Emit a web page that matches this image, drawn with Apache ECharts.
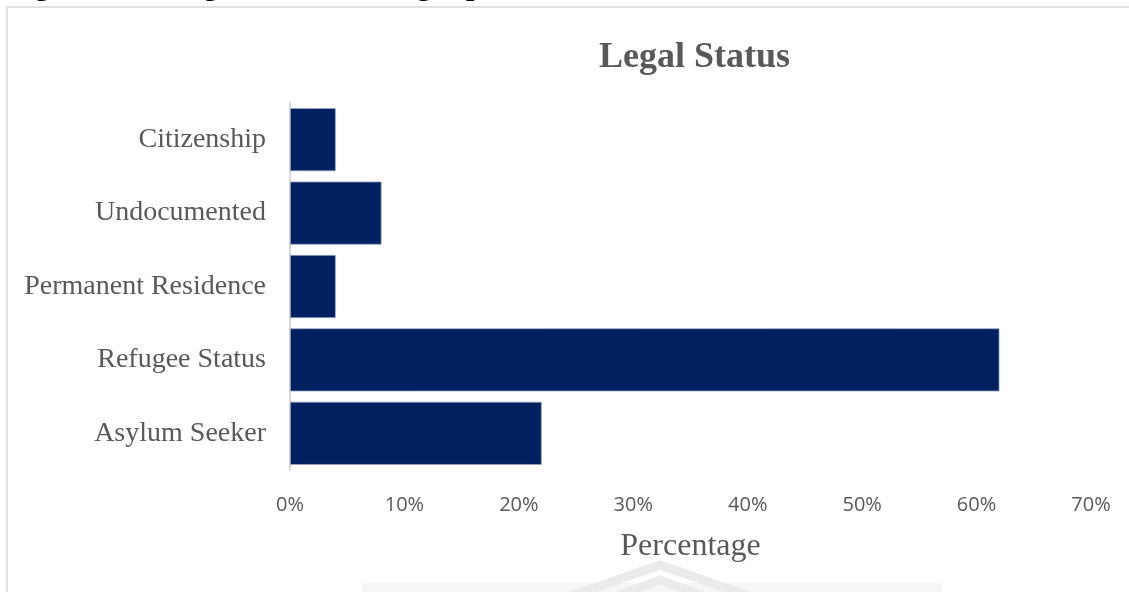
<!DOCTYPE html>
<html>
<head>
<meta charset="utf-8">
<title>Legal Status</title>
<script src="https://cdn.jsdelivr.net/npm/echarts@6/dist/echarts.min.js"></script>
<style>
  html, body { margin: 0; padding: 0; background: #ffffff; }
  #chart { width: 1129px; height: 592px; }
</style>
</head>
<body>
<div id="chart"></div>
<script>
// Legal status of refugee patients (share of patients, %)
const categories = ['Asylum Seeker', 'Refugee Status', 'Permanent Residence', 'Undocumented', 'Citizenship'];
const percentages = [22, 62, 4, 8, 4];
const xTicks = { min: 0, max: 70, interval: 10 };
const chartTitle = 'Legal Status';
const axisTitle = 'Percentage';
const caption = 'Figure 3.10: Legal status of refugee patients';

const serif = '"Liberation Serif", "Times New Roman", serif';
const sans = '"Open Sans", "Noto Sans", sans-serif';
const grey = '#595959';

const chart = echarts.init(document.getElementById('chart'), null, { renderer: 'canvas' });

chart.setOption({
  animation: false,
  backgroundColor: '#ffffff',
  title: {
    text: chartTitle,
    left: 594,
    top: 35,
    textStyle: { fontFamily: serif, fontWeight: 'bold', fontSize: 36, color: grey }
  },
  grid: { left: 290, right: 38, top: 103, bottom: 122, containLabel: false },
  xAxis: {
    type: 'value',
    min: xTicks.min,
    max: xTicks.max,
    interval: xTicks.interval,
    name: axisTitle,
    nameLocation: 'middle',
    nameGap: 61,
    nameTextStyle: { fontFamily: serif, fontSize: 32, color: grey },
    axisLine: { show: false },
    axisTick: { show: false },
    splitLine: { show: false },
    axisLabel: {
      margin: 25,
      fontFamily: sans,
      fontSize: 20,
      color: grey,
      formatter: v => v + '%'
    }
  },
  yAxis: {
    type: 'category',
    data: categories,
    axisLine: { show: true, lineStyle: { color: '#d9d9d9', width: 2 } },
    axisTick: { show: false },
    axisLabel: { margin: 24, fontFamily: serif, fontSize: 28, color: grey }
  },
  series: [{
    type: 'bar',
    data: percentages,
    barCategoryGap: '14%',
    itemStyle: { color: '#002060', borderColor: '#9aa8c4', borderWidth: 0.8 }
  }],
  graphic: [
    // faint page watermark behind the chart's foot
    {
      type: 'rect',
      z: -10,
      shape: { x: 362, y: 583, width: 580, height: 12 },
      style: { fill: '#f6f6f6' },
      silent: true
    },
    {
      type: 'polyline',
      z: -9,
      shape: { points: [[560, 600], [660, 565], [760, 600]] },
      style: { stroke: '#ebebeb', lineWidth: 9, fill: null },
      silent: true
    },
    {
      type: 'polyline',
      z: -9,
      shape: { points: [[595, 604], [660, 580], [725, 604]] },
      style: { stroke: '#ebebeb', lineWidth: 9, fill: null },
      silent: true
    },
    // frame around the chart
    {
      type: 'rect',
      shape: { x: 7, y: 7, width: 1200, height: 700 },
      style: { fill: null, stroke: '#d9d9d9', lineWidth: 1.5 },
      silent: true
    },
    // figure caption, running off the top edge
    {
      type: 'text',
      x: 8,
      y: 2,
      style: {
        text: caption,
        font: 'bold 30px ' + serif,
        fill: '#000000',
        verticalAlign: 'bottom'
      },
      silent: true
    }
  ]
});
</script>
</body>
</html>
